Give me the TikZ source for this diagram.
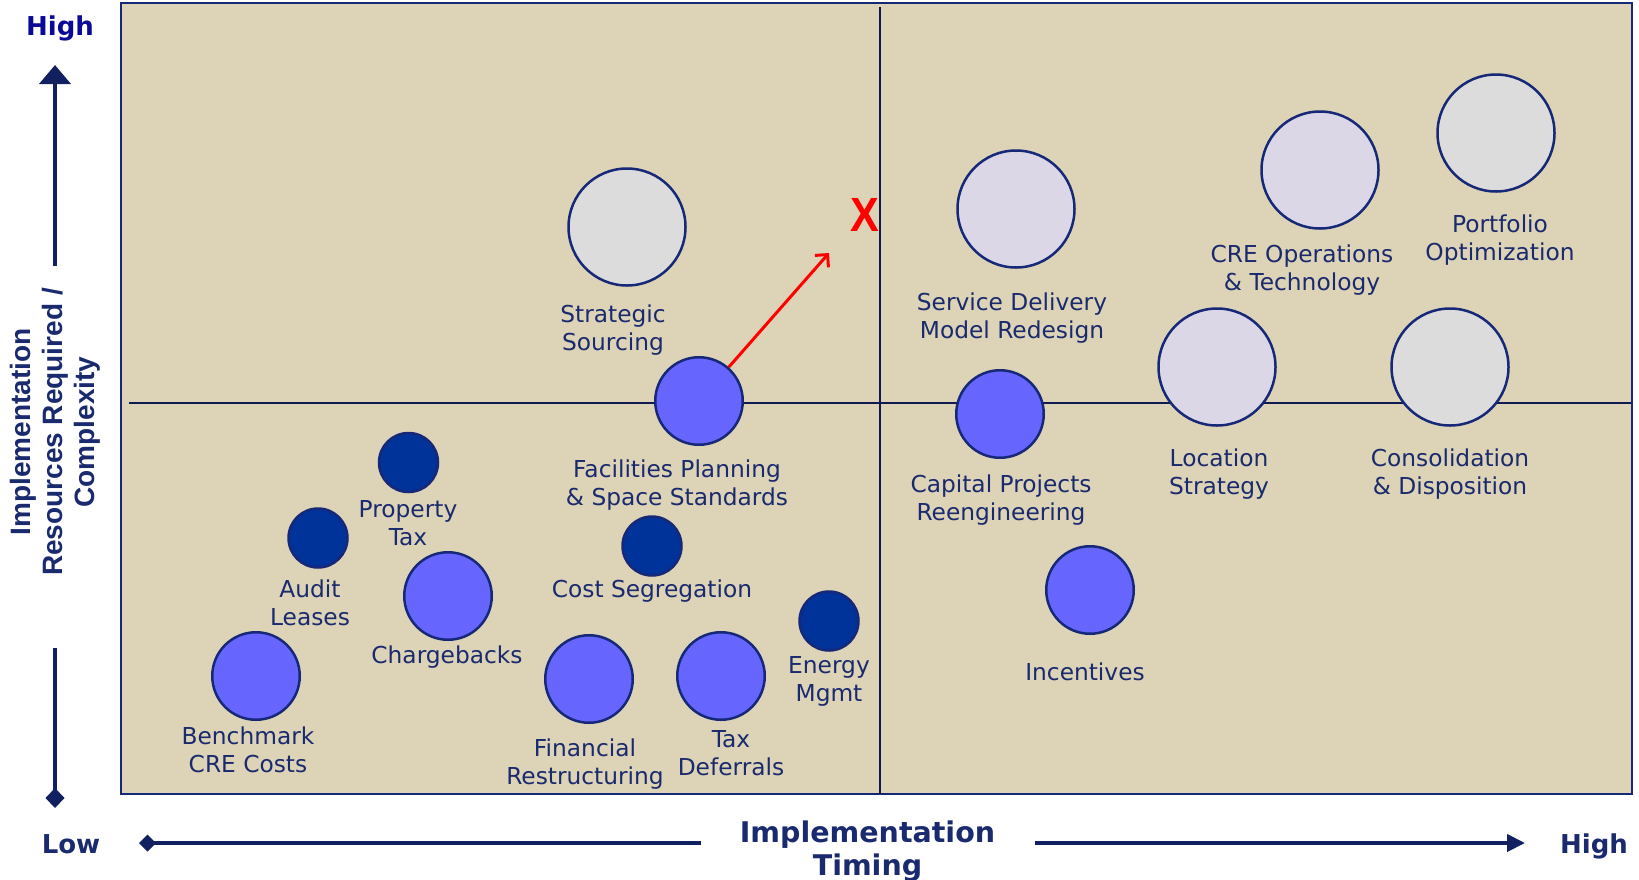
\documentclass[tikz,border=0pt]{standalone}
\usepackage{fontspec}
\setmainfont{DejaVu Sans}
\newfontfamily\arialfamily{Liberation Sans}
\usetikzlibrary{arrows.meta}
\definecolor{panel}{RGB}{221,211,182}
\definecolor{ringnavy}{RGB}{22,40,120}
\definecolor{divnavy}{RGB}{14,26,80}
\definecolor{labelnavy}{RGB}{26,42,110}
\definecolor{axisnavy}{RGB}{16,32,96}
\definecolor{highblue}{RGB}{10,10,150}
\definecolor{greyfill}{RGB}{220,220,220}
\definecolor{lavfill}{RGB}{219,215,231}
\definecolor{midfill}{RGB}{102,102,255}
\definecolor{darkfill}{RGB}{0,51,153}
\definecolor{markred}{RGB}{255,0,0}
\begin{document}
\begin{tikzpicture}[x=1pt,y=-1pt,
  bubble/.style={circle, draw=ringnavy, line width=2.5pt, inner sep=0pt},
  bigbubble/.style={bubble, minimum size=117pt},
  midbubble/.style={bubble, minimum size=87.5pt, fill=midfill},
  smallbubble/.style={bubble, minimum size=59pt, fill=darkfill},
  lbl/.style={text=labelnavy, font=\fontsize{23.3}{28}\selectfont, align=center, inner sep=0pt},
  axisline/.style={draw=axisnavy, line width=4pt},
  axistag/.style={font=\fontsize{26}{30}\selectfont\bfseries, inner sep=0pt, anchor=base},
  divider/.style={draw=divnavy, line width=2pt}]
\useasboundingbox (0,0) rectangle (1639,879);

% quadrant panel and dividers
\path[fill=panel, draw=ringnavy, line width=2pt] (121,3) rectangle (1632,794);
\draw[divider] (880,7) -- (880,794);
\draw[divider] (129,402.5) -- (1631,402.5);

% bubbles
\node[bigbubble, fill=greyfill] (strat) at (627,227) {};
\node[bigbubble, fill=lavfill]  (serv)  at (1016,209) {};
\node[bigbubble, fill=lavfill]  (creops) at (1320,170) {};
\node[bigbubble, fill=greyfill] (port)  at (1496,133) {};
\node[bigbubble, fill=lavfill]  (loc)   at (1217,367) {};
\node[bigbubble, fill=greyfill] (cons)  at (1450,367) {};
\node[midbubble] (fac)   at (699,401) {};
\node[midbubble] (cap)   at (1000,414) {};
\node[midbubble] (inc)   at (1090,590) {};
\node[midbubble] (charge) at (448,596) {};
\node[midbubble] (bench) at (256,676) {};
\node[midbubble] (fin)   at (589,679) {};
\node[midbubble] (taxdef) at (721,676) {};
\node[smallbubble] (prop)  at (408.5,462.5) {};
\node[smallbubble] (audit) at (318,538) {};
\node[smallbubble] (costseg) at (652,546) {};
\node[smallbubble] (energy) at (829,621) {};

% bubble labels
\node[lbl] (stratL)  at (613,330)   {Strategic\\Sourcing};
\node[lbl] (servL)   at (1012,318)  {Service Delivery\\Model Redesign};
\node[lbl] (creopsL) at (1302,270)  {CRE Operations\\\& Technology};
\node[lbl] (portL)   at (1500,240)  {Portfolio\\Optimization};
\node[lbl] (locL)    at (1219,474)  {Location\\Strategy};
\node[lbl] (consL)   at (1450,474)  {Consolidation\\\& Disposition};
\node[lbl] (facL)    at (677,485)   {Facilities Planning\\\& Space Standards};
\node[lbl] (capL)    at (1001,500)  {Capital Projects\\Reengineering};
\node[lbl] (incL)    at (1085,672)  {Incentives};
\node[lbl] (propL)   at (408,523)   {Property\\Tax};
\node[lbl] (auditL)  at (310,603)   {Audit\\Leases};
\node[lbl] (chargeL) at (447,657)   {Chargebacks};
\node[lbl] (costsegL) at (652,591)  {Cost Segregation};
\node[lbl] (energyL) at (829,681)   {Energy\\Mgmt};
\node[lbl] (benchL)  at (248,750)   {Benchmark\\CRE Costs};
\node[lbl] (finL)    at (585,764)   {Financial\\Restructuring};
\node[lbl] (taxdefL) at (731,753)   {Tax\\Deferrals};

% shift marker
\node[text=markred, font=\arialfamily\fontsize{48}{48}\selectfont\bfseries, inner sep=0pt]
  (mark) at (864.5,214.5) {\scalebox{0.9}[1]{X}};
\coordinate (shift) at (829,253);
\draw[draw=markred, line width=3pt, -{Straight Barb[length=9pt,width=18pt]}] (fac) -- (shift);

% vertical axis
\node[text=labelnavy, rotate=90, align=center, inner sep=0pt,
  font=\arialfamily\fontsize{28}{32}\selectfont\bfseries]
  (yaxis) at (55,432) {Implementation\\Resources Required /\\Complexity};
\coordinate (ytopstart) at (55,266);
\coordinate (ytop) at (55,65);
\coordinate (ybotstart) at (55,648);
\coordinate (ybot) at (55,808);
\draw[axisline, -{Triangle[width=31pt,length=19pt]}] (ytopstart) -- (ytop);
\draw[axisline, -{Diamond[width=19pt,length=20pt]}] (ybotstart) -- (ybot);
\node[axistag, text=highblue] (yhigh) at (60,35) {High};

% horizontal axis
\node[text=labelnavy, align=center, inner sep=0pt,
  font=\fontsize{28.5}{33}\selectfont\bfseries]
  (xaxis) at (867.5,851) {Implementation\\Timing};
\coordinate (xleftstart) at (701,843);
\coordinate (xleft) at (139,843);
\coordinate (xrightstart) at (1035,843);
\coordinate (xright) at (1525,843);
\draw[axisline, -{Diamond[width=17pt,length=17pt]}] (xleftstart) -- (xleft);
\draw[axisline, -{Triangle[width=17pt,length=18pt]}] (xrightstart) -- (xright);
\node[axistag, text=labelnavy] (xlow) at (71,853) {Low};
\node[axistag, text=labelnavy] (xhigh) at (1594,853) {High};
\end{tikzpicture}
\end{document}
